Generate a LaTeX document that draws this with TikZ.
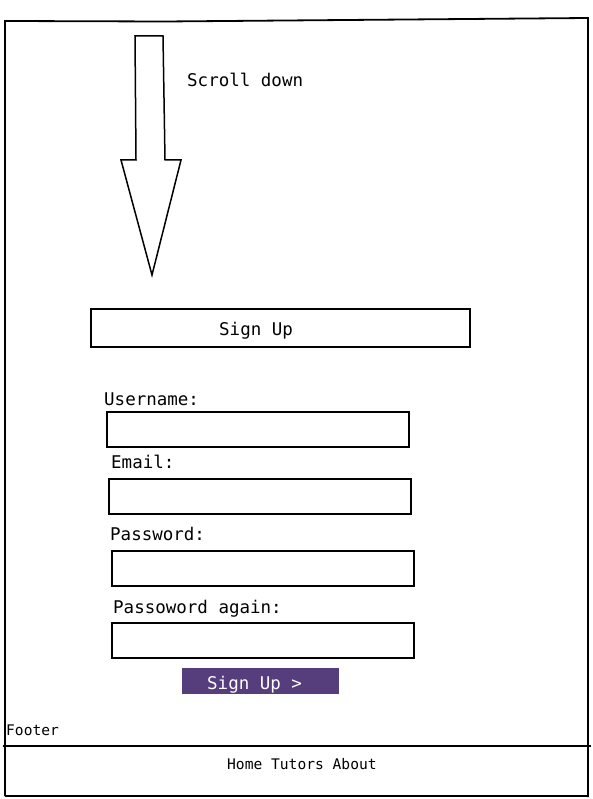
\documentclass[tikz,border=0pt]{standalone}
\usepackage{fontspec}
\setmonofont{DejaVu Sans Mono}
\definecolor{btnpurple}{HTML}{563D7C}

\begin{document}
\begin{tikzpicture}[x=1pt,y=-1pt,
    txt/.style={anchor=base west,inner sep=0pt,font=\ttfamily\fontsize{17.5}{20}\selectfont},
    small/.style={anchor=base west,inner sep=0pt,font=\ttfamily\fontsize{14.6}{17}\selectfont},
    field/.style={draw,line width=2pt,anchor=north west,inner sep=0pt,outer sep=0pt,minimum width=302pt,minimum height=35pt},
    button/.style={fill=btnpurple,anchor=north west,inner sep=0pt,outer sep=0pt,minimum width=157pt,minimum height=26pt}]
    \useasboundingbox (0,0) rectangle (593,799);
    % page frame
    \draw[line width=1.8pt] (5,796) -- (5,21) -- (165,21.5) -- (588,18) -- (588,797);
    \draw[line width=1.8pt] (5,796) -- (588,796);
    \draw[line width=2.6pt] (3,746) -- (591,746);
    % scroll arrow
    \draw[line width=1.5pt] (135,36) -- (163,36) -- (165,160) -- (181,160)
      -- (152,275) -- (121,160) -- (136,160) -- cycle;
    \node[txt] (scroll) at (187,87) {Scroll down};
    % header
    \node[draw,line width=2pt,anchor=north west,inner sep=0pt,outer sep=0pt,minimum width=379pt,minimum height=38pt] (head) at (91,309) {};
    \node[txt] (title) at (219,335) {Sign Up};
    % form
    \node[txt] (luser) at (104,405) {Username:};
    \node[field] (user) at (107,412) {};
    \node[txt] (lmail) at (111,468) {Email:};
    \node[field] (mail) at (109,479) {};
    \node[txt] (lpass) at (110,540) {Password:};
    \node[field] (pass) at (112,551) {};
    \node[txt] (lagain) at (113,613) {Passoword again:};
    \node[field] (again) at (112,623) {};
    \node[button] (btn) at (182,668) {};
    \node[txt,text=white] (btntxt) at (207,689) {Sign Up >};
    % footer
    \node[small] (foot) at (6,735) {Footer};
    \node[small] (links) at (227,769) {Home Tutors About};
  \end{tikzpicture}
\end{document}
